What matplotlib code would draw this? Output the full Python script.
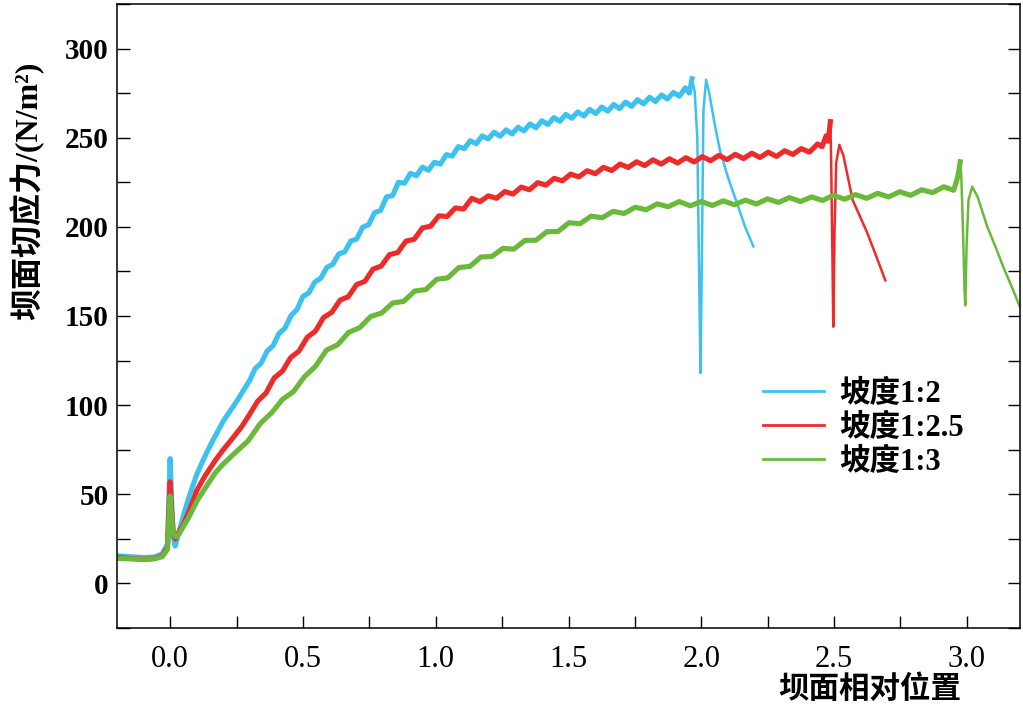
import matplotlib
matplotlib.use('Agg')
import matplotlib.pyplot as plt
from matplotlib.ticker import MultipleLocator

# fonts: Times-like for numbers, CJK fallback for the Chinese text
SERIF_CJK = ['Liberation Serif', 'Noto Sans CJK SC']
plt.rcParams['font.family'] = SERIF_CJK
plt.rcParams['axes.unicode_minus'] = False

BLUE = '#3DC1F0'
RED = '#EE2B2B'
GREEN = '#6BB93B'

labels = ['坡度1:2', '坡度1:2.5', '坡度1:3']

# ---- slope 1:2 (blue) ----
blue_x = [-0.20, -0.15, -0.10, -0.06, -0.03, -0.01, 0.000, 0.006, 0.012, 0.019, 0.03, 0.05,
          0.07, 0.10, 0.13, 0.16, 0.20, 0.25, 0.30,
          0.32, 0.3425, 0.365, 0.3875, 0.41, 0.4325, 0.455, 0.4775, 0.50, 0.5225,
          0.545, 0.5675, 0.59, 0.6125, 0.635, 0.6575, 0.68, 0.7025, 0.725, 0.7475,
          0.77, 0.7925, 0.815, 0.8375, 0.86, 0.8825, 0.905, 0.9275, 0.95, 0.9725,
          0.995, 1.0175, 1.04, 1.0625, 1.085, 1.1075, 1.13, 1.1525, 1.175, 1.1975,
          1.22, 1.2425, 1.265, 1.2875, 1.31, 1.3325, 1.355, 1.3775, 1.40, 1.4225,
          1.445, 1.4675, 1.49, 1.5125, 1.535, 1.5575, 1.58, 1.6025, 1.625, 1.6475,
          1.67, 1.6925, 1.715, 1.7375, 1.76, 1.7825, 1.805, 1.8275, 1.85, 1.8725,
          1.895, 1.9175, 1.94, 1.955, 1.965]
blue_y = [15.5, 15.0, 14.5, 14.8, 16.5, 22, 70, 45, 26, 21, 27, 38,
          48, 61, 71, 80, 91, 102, 114,
          120.5, 123.5, 130.3, 133.3, 140.2, 143.2, 150.2, 153.6, 161, 163,
          169.1, 171.2, 177.2, 179, 184.8, 186, 192, 193.2, 199.8, 201.2,
          208, 209.2, 216.8, 217.5, 225, 224.5, 230, 228.7, 233.5, 231.8,
          236.2, 235.2, 240.5, 239.7, 245, 243.9, 248.3, 246.6, 251, 249.3,
          253.1, 250.8, 254.4, 252.1, 255.9, 253.8, 257.7, 255.6, 259.5, 257.4,
          261.3, 259.2, 263.1, 260.9, 264.5, 262.2, 265.9, 263.6, 267.2, 264.9,
          268.6, 266.3, 270, 267.6, 271.3, 269, 272.7, 270.3, 274, 271.7,
          275.4, 273.3, 278, 275, 283]
blue_tail_x = [1.965, 1.975, 1.985, 1.993, 1.997, 2.002, 2.008, 2.018, 2.03, 2.05,
               2.07, 2.10, 2.135, 2.165, 2.196]
blue_tail_y = [283, 276, 250, 160, 118, 180, 265, 282.5, 275, 258,
               243, 228, 213, 200, 189]

# ---- slope 1:2.5 (red) ----
red_x = [-0.20, -0.15, -0.10, -0.06, -0.03, -0.01, 0.000, 0.006, 0.012, 0.02, 0.03, 0.05,
         0.07, 0.10, 0.13, 0.17, 0.20, 0.233, 0.27, 0.30,
         0.33, 0.361, 0.392, 0.423, 0.454, 0.485, 0.516, 0.547, 0.578, 0.609,
         0.64, 0.671, 0.702, 0.733, 0.764, 0.795, 0.826, 0.857, 0.888, 0.919,
         0.95, 0.981, 1.012, 1.043, 1.074, 1.105, 1.136, 1.167, 1.198, 1.229,
         1.26, 1.291, 1.322, 1.353, 1.384, 1.415, 1.446, 1.477, 1.508, 1.539,
         1.57, 1.601, 1.632, 1.663, 1.694, 1.725, 1.756, 1.787, 1.818, 1.849,
         1.88, 1.911, 1.942, 1.973, 2.004, 2.035, 2.066, 2.097, 2.128, 2.159,
         2.19, 2.221, 2.252, 2.283, 2.314, 2.345, 2.376, 2.407, 2.438, 2.455,
         2.47, 2.478, 2.486]
red_y = [14.5, 14.0, 13.5, 14.0, 15.5, 20, 57, 40, 28, 25, 28, 33,
         40, 52, 60, 69, 75, 81, 88, 95,
         102.3, 106.8, 115.3, 119.1, 126.7, 130.3, 138, 141.5, 149.2, 152.1,
         158.9, 160.8, 167.6, 169.4, 176.3, 178, 184.4, 185.6, 192, 193,
         199.4, 200.4, 206.2, 205.8, 210.6, 210, 216, 214.1, 217.4, 216,
         219.8, 218.4, 222.3, 220.8, 224.8, 223.4, 227.2, 225.8, 229.6, 228,
         231.5, 229.8, 233.4, 231.6, 235.2, 233.3, 236.5, 234.4, 237.6, 235.2,
         238.2, 235.8, 238.8, 236.4, 239.4, 237.1, 240.1, 237.7, 240.7, 238.3,
         241.3, 238.9, 241.9, 239.5, 242.7, 240.6, 243.9, 241.9, 246.5, 245,
         251, 248, 259]
red_tail_x = [2.486, 2.489, 2.494, 2.497, 2.502, 2.508, 2.52, 2.535, 2.57, 2.60,
              2.625, 2.66, 2.693]
red_tail_y = [259, 236, 180, 144, 200, 236, 246, 240, 215, 205,
              196.6, 183, 170]

# ---- slope 1:3 (green) ----
green_x = [-0.20, -0.15, -0.10, -0.06, -0.03, -0.01, 0.000, 0.006, 0.012, 0.022, 0.035, 0.05,
           0.07, 0.10, 0.13, 0.17, 0.20, 0.25, 0.294,
           0.34, 0.3815, 0.423, 0.4645, 0.506, 0.5475, 0.589, 0.6305, 0.672, 0.7135,
           0.755, 0.7965, 0.838, 0.8795, 0.921, 0.9625, 1.004, 1.0455, 1.087, 1.1285,
           1.17, 1.2115, 1.253, 1.2945, 1.336, 1.3775, 1.419, 1.4605, 1.502, 1.5435,
           1.585, 1.6265, 1.668, 1.7095, 1.751, 1.7925, 1.834, 1.8755, 1.917, 1.9585,
           2.0, 2.0415, 2.083, 2.1245, 2.166, 2.2075, 2.249, 2.2905, 2.332, 2.3735,
           2.415, 2.4565, 2.498, 2.5395, 2.581, 2.6225, 2.664, 2.7055, 2.747, 2.7885,
           2.83, 2.8715, 2.913, 2.95, 2.962, 2.968, 2.975]
green_y = [14.0, 13.8, 13.5, 13.8, 15.0, 19, 49, 36, 28, 26, 28, 32,
           37, 46, 53, 62, 67, 74, 80,
           89.8, 95.6, 103.2, 107.6, 116, 121.8, 130.9, 133.8, 140.8, 143.4,
           149.7, 151.7, 157.3, 158.2, 164, 164.8, 170.6, 171.4, 177.2, 177.8,
           183.1, 183.4, 187.9, 187.5, 192.4, 192.5, 197.3, 197.4, 202.3, 201.8,
           206, 205.1, 208.7, 207.5, 211, 209.6, 212.9, 211.3, 214.2, 211.8,
           214.2, 212, 214.6, 212.4, 215, 212.8, 215.7, 213.7, 216.4, 214.2,
           216.8, 214.8, 217.7, 215.5, 218.1, 216, 218.8, 216.8, 219.7, 217.7,
           220.8, 219.2, 222.5, 220.5, 226, 230, 236.5]
green_tail_x = [2.975, 2.979, 2.985, 2.991, 2.994, 2.999, 3.006, 3.02, 3.04, 3.077,
                3.11, 3.137, 3.17, 3.20]
green_tail_y = [236.5, 228, 200, 165, 156, 190, 215, 222.5, 217, 200,
                188, 177.5, 166, 155]

fig = plt.figure(figsize=(10.23, 7.08), dpi=100)
ax = fig.add_axes([117 / 1023, 1 - 628 / 708, 903 / 1023, 624 / 708])

series = [
    (blue_x, blue_y, blue_tail_x, blue_tail_y, BLUE),
    (red_x, red_y, red_tail_x, red_tail_y, RED),
    (green_x, green_y, green_tail_x, green_tail_y, GREEN),
]
for (mx, my, tx, ty, c), lab in zip(series, labels):
    ax.plot(mx, my, color=c, linewidth=3.7, solid_joinstyle='round', label=lab)
    ax.plot(tx, ty, color=c, linewidth=1.8, solid_joinstyle='round')

ax.set_xlim(-0.2, 3.2)
ax.set_ylim(-25, 325)

ax.xaxis.set_minor_locator(MultipleLocator(0.25))
ax.yaxis.set_minor_locator(MultipleLocator(25))
ax.tick_params(which='both', direction='in', length=9, width=1.0, right=True, top=False,
               labelright=False)
ax.tick_params(axis='x', pad=12, labelsize=22)
ax.tick_params(axis='y', pad=6, labelsize=21)
ax.set_xticks([0.0, 0.5, 1.0, 1.5, 2.0, 2.5, 3.0])
ax.set_xticklabels(['0.0', '0.5', '1.0', '1.5', '2.0', '2.5', '3.0'])
ax.set_yticks([0, 50, 100, 150, 200, 250, 300])
ax.set_yticklabels(['0', '50', '100', '150', '200', '250', '300'], fontweight='bold')

for sp in ax.spines.values():
    sp.set_linewidth(1.1)
    sp.set_color('black')

ax.set_ylabel('坝面切应力/(N/m²)', fontsize=23, fontweight='bold')
ax.yaxis.set_label_coords(-0.080, 0.70)
ax.text(870 / 1023, 1 - 690 / 708, '坝面相对位置', transform=fig.transFigure,
        ha='center', va='center', fontsize=22, fontweight='bold')

leg = ax.legend(loc='upper left', bbox_to_anchor=((763 - 117) / 903, 0.398),
                frameon=False, fontsize=22, handlelength=2.0, handletextpad=0.48,
                labelspacing=0.16, borderpad=0, borderaxespad=0)
for h in leg.get_lines():
    h.set_linewidth(2.0)
for t in leg.get_texts():
    t.set_fontweight('bold')

fig.savefig('out.png', dpi=100)
